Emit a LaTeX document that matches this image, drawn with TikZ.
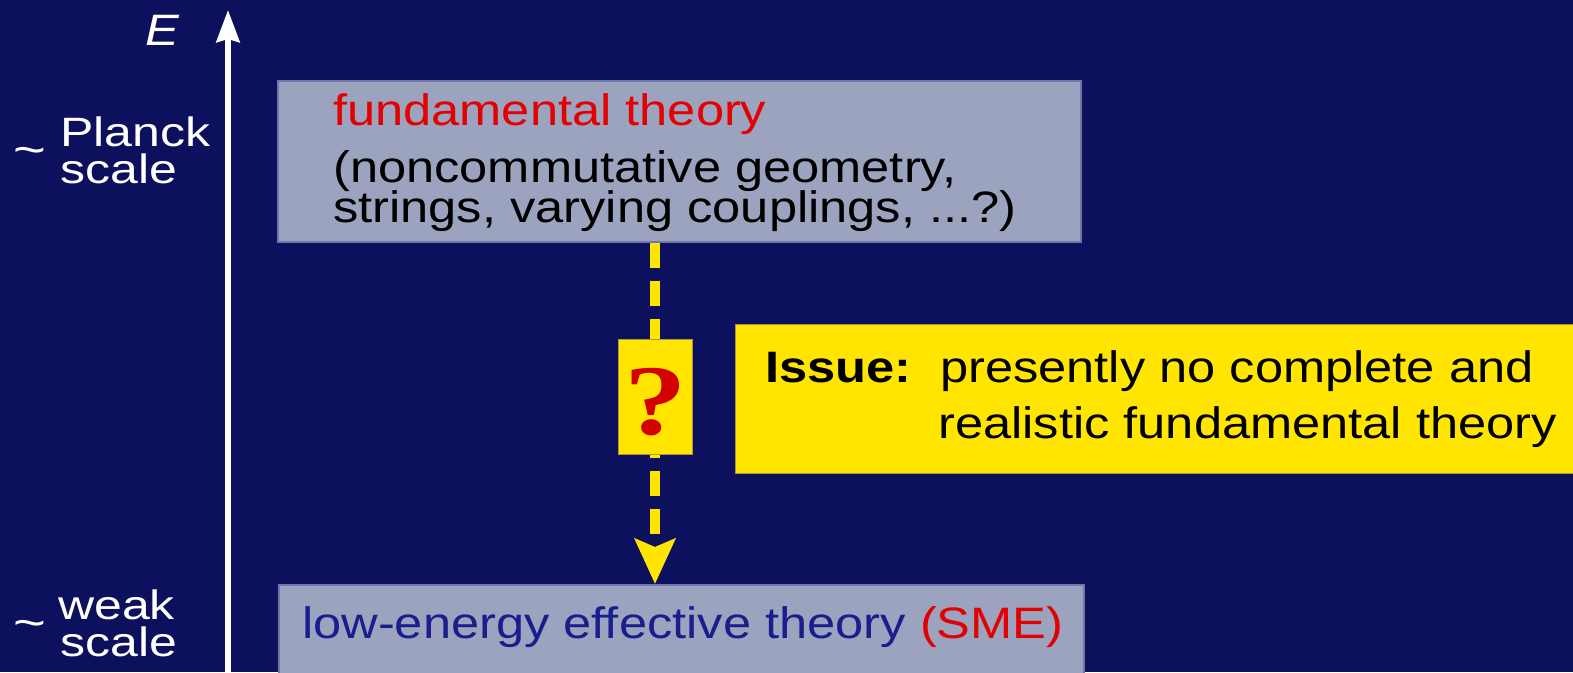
\documentclass[tikz,border=0pt]{standalone}
\usepackage{fontspec}
\setmainfont{Liberation Sans}[FakeStretch=1.15]
\newfontfamily\lblfont{Liberation Sans}[FakeStretch=1.22]
\newfontfamily\qfont{Liberation Serif}[FakeStretch=1.25]
\usetikzlibrary{arrows.meta}
\definecolor{bg}{RGB}{13,16,92}
\definecolor{boxgray}{RGB}{156,163,190}
\definecolor{boxedge}{RGB}{110,118,172}
\definecolor{ylw}{RGB}{255,229,0}
\definecolor{ylwedge}{RGB}{170,150,60}
\definecolor{redtxt}{RGB}{228,0,0}
\definecolor{qred}{RGB}{212,0,0}
\definecolor{bluetxt}{RGB}{25,30,140}
\begin{document}
\begin{tikzpicture}[x=1pt,y=-1pt,
  graybox/.style={draw=boxedge,line width=1.5pt,fill=boxgray,rectangle,anchor=north west,inner sep=0pt},
  ybox/.style={draw=ylwedge,line width=1pt,fill=ylw,rectangle,inner sep=0pt},
  txt/.style={anchor=base west,inner sep=0pt,font=\fontsize{44}{40}\selectfont},
  wtxt/.style={anchor=base west,inner sep=0pt,text=white,font=\fontsize{41}{40}\lblfont},
  tld/.style={inner sep=0pt,text=white,font=\fontsize{46}{46}\lblfont},
  yline/.style={draw=ylw,line width=10pt,dash pattern=on 25pt off 13pt,-{Stealth[length=45pt,width=40pt,inset=8pt]}},
  axis/.style={draw=white,line width=6pt,-{Stealth[length=32pt,width=23pt,inset=3pt]}}]
\useasboundingbox (0,0) rectangle (1573,672);
\clip (0,0) rectangle (1573,672);
\fill[bg] (0,0) rectangle (1573,672);
% axis
\coordinate (axisbot) at (228,680);
\coordinate (axistop) at (228,10);
\draw[axis] (axisbot) -- (axistop);
\node[anchor=base west,inner sep=0pt,text=white,font=\fontsize{44}{40}\selectfont\itshape] (E) at (145,45) {E};
\node[tld] (t1) at (30,156) {\char"7E};
\node[wtxt] (planck) at (60,146) {Planck};
\node[wtxt] (scale1) at (60,183) {scale};
\node[tld] (t2) at (30,629) {\char"7E};
\node[wtxt] (weak) at (58,619) {weak};
\node[wtxt] (scale2) at (60,656) {scale};
% boxes
\node[graybox,minimum width=803pt,minimum height=161pt] (top) at (277,80) {};
\node[graybox,minimum width=805pt,minimum height=120pt] (bot) at (278,584) {};
\node[ybox,anchor=north west,minimum width=900pt,minimum height=149pt] (issue) at (735,324) {};
% texts
\node[txt,text=redtxt] (ft) at (333,125) {fundamental theory};
\node[txt] (l1) at (333,182) {(noncommutative geometry,};
\node[txt] (l2) at (333,222) {strings, varying couplings, ...?)};
\node[txt,text=bluetxt] (low) at (302,638) {low-energy effective theory \textcolor{redtxt}{(SME)}};
\node[txt,font=\fontsize{44}{40}\selectfont\bfseries] (iss) at (765,382) {Issue:};
\node[txt] (i1) at (940,382) {presently no complete and};
\node[txt] (i2) at (938,438) {realistic fundamental theory};
% connector
\coordinate (qc) at (655,396.5);
\draw[yline] (qc |- top.south) -- (qc |- bot.north);
\node[ybox,minimum width=74pt,minimum height=115pt] (q) at (qc) {};
\node[inner sep=0pt,text=qred,font=\fontsize{100}{100}\qfont\bfseries] (qm) at (656,402) {?};
\end{tikzpicture}
\end{document}
